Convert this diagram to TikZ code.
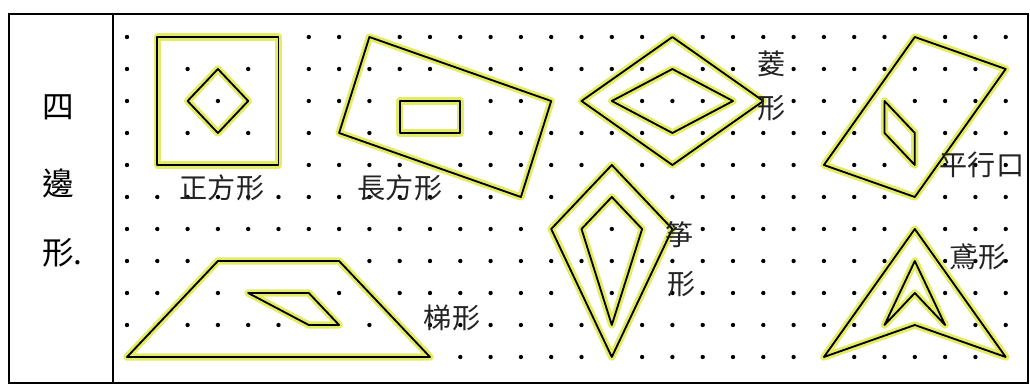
\documentclass[tikz,border=0pt]{standalone}
\usepackage{fontspec}
\usepackage{xcolor}
\usepackage{tikz}
\newfontfamily\cjk{Noto Sans CJK TC}
\definecolor{hiyellow}{RGB}{228, 236, 100}
\definecolor{inkgray}{RGB}{35, 35, 35}
\tikzstyle{band} = [
    line width=0.55mm,
    line join=round,
    draw=black,
    preaction={draw=hiyellow, line width=2.2mm, line join=round}
]
\tikzstyle{peg} = [fill=black]
\tikzstyle{hand} = [
    font=\cjk\fontsize{24pt}{24pt}\selectfont,
    inner sep=0pt,
    text=inkgray
]
\tikzstyle{heading} = [
    font=\cjk\fontsize{27pt}{27pt}\selectfont,
    inner sep=0pt
]

\begin{document}
\begin{tikzpicture}[x=0.3mm, y=-0.3mm]
        \useasboundingbox (0,0) rectangle (1030,385);
        % Frame
        \draw[line width=0.7mm] (9,14) rectangle (1028,383);
        \draw[line width=0.7mm] (113,14) -- (113,383);
        
        % Heading
        \node[heading] (si) at (58,107) {四};
        \node[heading] (bian) at (58,183) {邊};
        \node[heading, anchor=west] (xing) at (42,253) {形.};
        
        % Geoboard
        \begin{scope}[shift={(127,37)}, x=9.09mm, y=-9.6mm]
        \foreach \c in {0,...,29}
            \foreach \r in {0,...,10}
                \fill[peg] (\c,\r) circle (0.65mm);
        % Squares
        \draw[band] (1,0) -- (5,0) -- (5,4) -- (1,4) -- cycle;
        \draw[band] (3,1) -- (4,2) -- (3,3) -- (2,2) -- cycle;
        % Rectangles
        \draw[band] (8,0) -- (14,2) -- (13,5) -- (7,3) -- cycle;
        \draw[band] (9,2) -- (11,2) -- (11,3) -- (9,3) -- cycle;
        % Rhombi
        \draw[band] (18,0) -- (21,2) -- (18,4) -- (15,2) -- cycle;
        \draw[band] (18,1) -- (20,2) -- (18,3) -- (16,2) -- cycle;
        % Parallelograms
        \draw[band] (26,0) -- (29,1) -- (26,5) -- (23,4) -- cycle;
        \draw[band] (25,2) -- (26,3) -- (26,4) -- (25,3) -- cycle;
        % Trapezia
        \draw[band] (3,7) -- (7,7) -- (10,10) -- (0,10) -- cycle;
        \draw[band] (4,8) -- (6,8) -- (7,9) -- (6,9) -- cycle;
        % Kites
        \draw[band] (16,4) -- (18,6) -- (16,10) -- (14,6) -- cycle;
        \draw[band] (16,5) -- (17,6) -- (16,9) -- (15,6) -- cycle;
        % Darts
        \draw[band] (26,6) -- (29,10) -- (26,9) -- (23,10) -- cycle;
        \draw[band] (26,7) -- (27,9) -- (26,8) -- (25,9) -- cycle;
        \end{scope}
        
        % Labels
        \node[hand] (square) at (222,188) {正方形};
        \node[hand] (rect) at (400,188) {長方形};
        \node[hand] (rhomb1) at (772,64) {菱};
        \node[hand] (rhomb2) at (772,108) {形};
        \node[hand] (para) at (982,165) {平行口};
        \node[hand] (kite1) at (680,235) {筝};
        \node[hand] (kite2) at (682,284) {形};
        \node[hand] (dart) at (978,257) {鳶形};
        \node[hand] (trap) at (452,318) {梯形};
    \end{tikzpicture}
\end{document}
